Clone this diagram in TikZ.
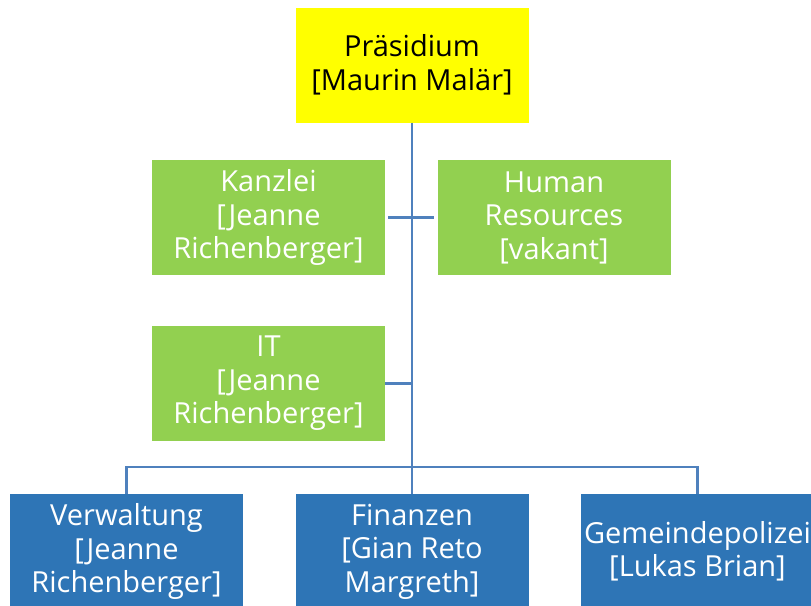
\documentclass[tikz,border=0pt]{standalone}
\usepackage{fontspec}
\setmainfont{Open Sans}
\definecolor{yel}{HTML}{FFFF00}
\definecolor{grn}{HTML}{92D050}
\definecolor{blu}{HTML}{2E75B6}
\definecolor{lin}{HTML}{4F81BD}
\begin{document}
\begin{tikzpicture}[x=1pt,y=-1pt,
  box/.style={minimum width=233pt,minimum height=115pt,inner sep=0pt,align=center,
    font=\fontsize{29}{33.5}\selectfont},
  top/.style={box,fill=yel,text=black},
  staff/.style={box,fill=grn,text=white},
  dept/.style={box,fill=blu,text=white},
  conn/.style={draw=lin,line width=2.2pt}]
\useasboundingbox[fill=white] (0,0) rectangle (811,605);
\begin{scope}
\clip (0,0) rectangle (811,605);
\node[top] (pres) at (412,65) {Präsidium\\{}[Maurin Malär]};
\node[staff] (kanz) at (268.5,217.5) {Kanzlei\\{}[Jeanne\\Richenberger]};
\node[staff] (hr) at (554,217.5) {Human\\Resources\\{}[vakant]};
\node[staff] (it) at (268.5,383.5) {IT\\{}[Jeanne\\Richenberger]};
\node[dept] (verw) at (126.5,551.5) {Verwaltung\\{}[Jeanne\\Richenberger]};
\node[dept] (fin) at (412,551.5) {Finanzen\\{}[Gian Reto\\Margreth]};
\node[dept] (pol) at (697.5,551.5) {Gemeindepolizei\\{}[Lukas Brian]};
\coordinate (bar) at (412,467);
\coordinate (sk) at (412,217.5);
\coordinate (si) at (412,383.5);
\draw[conn] (pres.south) -- (bar);
\draw[conn] ([xshift=3pt]kanz.east) -- ([xshift=-3pt]hr.west);
\draw[conn] (it.east) -- (si);
\draw[conn] (verw.north) |- (bar) -| (pol.north);
\draw[conn] (bar) -- (fin.north);
\end{scope}
\end{tikzpicture}
\end{document}
